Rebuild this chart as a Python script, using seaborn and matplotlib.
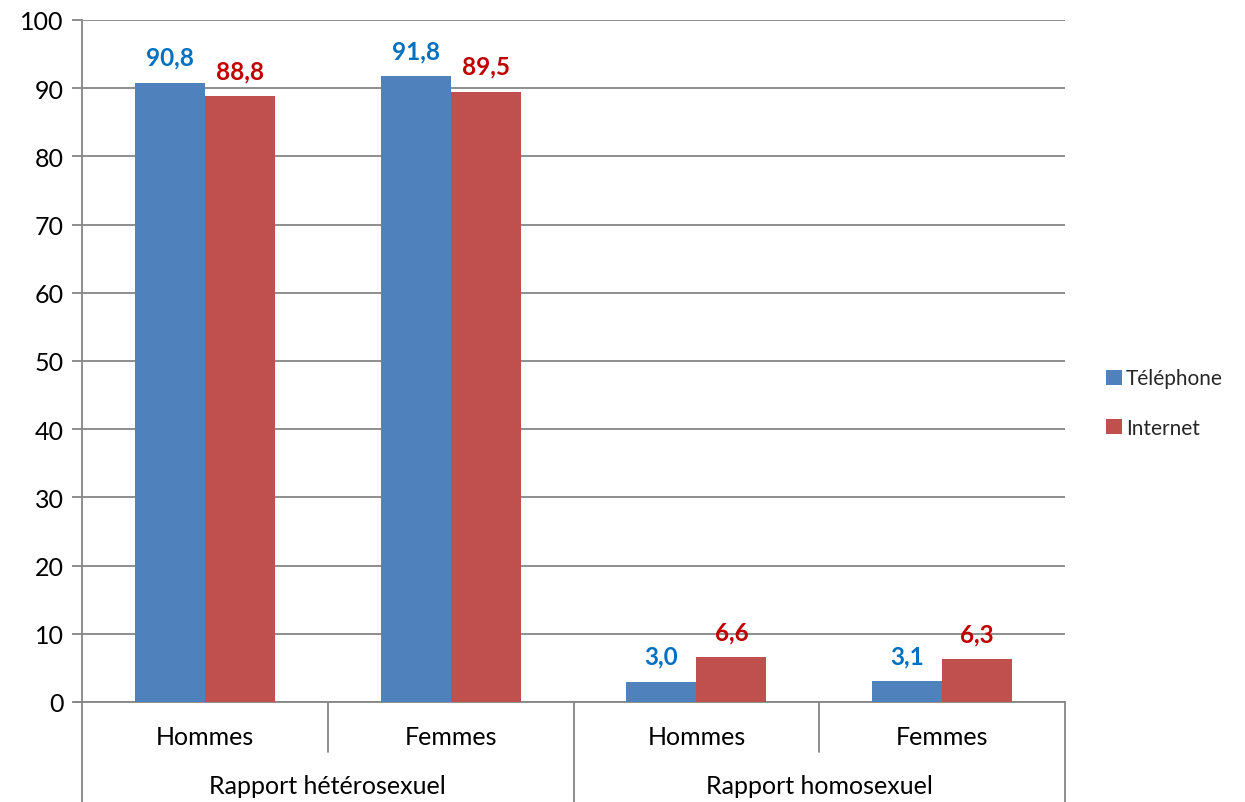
import matplotlib
matplotlib.use("Agg")
import matplotlib.pyplot as plt
import seaborn as sns
import pandas as pd
from matplotlib.lines import Line2D
from matplotlib.patches import Patch

# Data
groups = ["Rapport hétérosexuel", "Rapport homosexuel"]
sexes = ["Hommes", "Femmes"]
modes = ["Téléphone", "Internet"]
telephone = [90.8, 91.8, 3.0, 3.1]
internet = [88.8, 89.5, 6.6, 6.3]
y_ticks = list(range(0, 101, 10))

bar_colors = ["#4F81BD", "#C0504D"]
label_colors = ["#0070C0", "#C00000"]
grid_color = "#868686"

keys = [f"{g}|{s}" for g in groups for s in sexes]
df = pd.DataFrame({
    "cat": keys * 2,
    "mode": [modes[0]] * 4 + [modes[1]] * 4,
    "value": telephone + internet,
})

sns.set_style("white")
plt.rcParams["font.family"] = ["Lato", "DejaVu Sans"]

W, H = 1245, 803
fig = plt.figure(figsize=(W / 100, H / 100), dpi=100)
left, right, top, bottom = 82, 1065, 21, 703
ax = fig.add_axes([left / W, 1 - bottom / H, (right - left) / W, (bottom - top) / H])

sns.barplot(data=df, x="cat", y="value", hue="mode", order=keys, hue_order=modes,
            palette=bar_colors, width=0.57, saturation=1, ax=ax, legend=False,
            edgecolor="none", linewidth=0, zorder=3)

ax.set_xlim(-0.5, 3.5)
ax.set_ylim(0, 100)
ax.set_yticks(y_ticks)
ax.set_yticklabels([str(t) for t in y_ticks], fontsize=18, color="black")
ax.set_xticks([])
ax.set_xlabel("")
ax.set_ylabel("")
ax.yaxis.grid(True, color=grid_color, linewidth=1.3, zorder=0)
ax.set_axisbelow(True)
for side in ["top", "right"]:
    ax.spines[side].set_visible(False)
ax.spines["left"].set_color(grid_color)
ax.spines["left"].set_linewidth(1.3)
ax.spines["bottom"].set_color(grid_color)
ax.spines["bottom"].set_linewidth(1.3)
ax.tick_params(axis="y", length=7, width=1.3, color=grid_color, left=True, pad=6)

# Value labels above each bar
for container, color in zip(ax.containers, label_colors):
    labels = [f"{b.get_height():.1f}".replace(".", ",") for b in container]
    ax.bar_label(container, labels=labels, padding=10, color=color,
                 fontsize=17.5, fontweight="bold")

# Two-level category axis below the plot
trans = ax.get_xaxis_transform()
for i, key in enumerate(keys):
    ax.text(i, -0.05, key.split("|")[1], transform=trans, ha="center", va="center",
            fontsize=18, color="black")
for j, g in enumerate(groups):
    ax.text(2 * j + 0.5, -0.123, g, transform=trans, ha="center", va="center",
            fontsize=18, color="black")
for xb in [-0.5, 0.5, 1.5, 2.5, 3.5]:
    full = xb in (-0.5, 1.5, 3.5)
    ax.add_line(Line2D([xb, xb], [0, -0.147 if full else -0.073], transform=trans,
                       color=grid_color, linewidth=1.3, clip_on=False))
# Extend the baseline a little to the left, like the tick marks
ax.add_line(Line2D([-0.5 - 0.028, -0.5], [0, 0], transform=trans, color=grid_color,
                   linewidth=1.3, clip_on=False))

handles = [Patch(facecolor=c, edgecolor="none", label=m) for c, m in zip(bar_colors, modes)]
fig.legend(handles=handles, loc="center left", bbox_to_anchor=(1098 / W, 1 - 404 / H),
           frameon=False, fontsize=15, handlelength=0.75, handleheight=0.75,
           handletextpad=0.2, labelspacing=1.4, borderaxespad=0)

fig.savefig("out.png", dpi=100)
